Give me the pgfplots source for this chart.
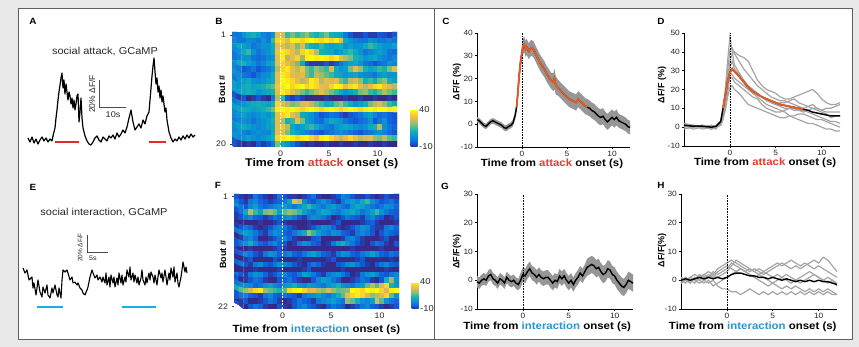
\documentclass[border=0pt]{standalone}
\usepackage{fontspec}
\setmainfont{Liberation Sans}[FakeStretch=1.1]
\newfontfamily\rotfont{Liberation Sans}
\usepackage{pgfplots}
\pgfplotsset{compat=1.18}
\usepackage{pgfplotstable}

\definecolor{bggray}{RGB}{232,232,232}
\definecolor{framegray}{RGB}{95,95,95}
\definecolor{attackred}{RGB}{232,60,55}
\definecolor{interblue}{RGB}{40,150,210}
\definecolor{lineorange}{RGB}{232,92,36}
\definecolor{bandgray}{RGB}{150,150,150}
\definecolor{tracegray}{RGB}{165,165,165}
\definecolor{barblue}{RGB}{30,170,230}
\definecolor{barred}{RGB}{232,40,40}
\definecolor{txt}{RGB}{40,40,40}

\newcommand\ftk{\fontsize{7.6}{9}\selectfont}
\newcommand\fxl{\fontsize{10.4}{12}\selectfont\bfseries}
\newcommand\fxlb{\fontsize{11.2}{13}\selectfont\bfseries}
\newcommand\fyl{\rotfont\fontsize{9}{10}\selectfont\bfseries}
\newcommand\flet{\fontsize{9}{10}\selectfont\bfseries}
\newcommand\fttl{\fontsize{10}{12}\selectfont}
\newcommand\fhm{\fontsize{8}{9}\selectfont}
\newcommand\fcb{\fontsize{8.5}{9}\selectfont}

\pgfplotsset{
  colormap={parula}{rgb255=(53,42,135) rgb255=(15,92,221) rgb255=(18,125,216) rgb255=(7,156,207) rgb255=(21,177,180) rgb255=(89,189,140) rgb255=(165,190,107) rgb255=(225,185,82) rgb255=(252,206,46) rgb255=(249,251,14)},
  /pgf/number format/assume math mode=true,
  enlargelimits=false,
  tr/.style={scale only axis, axis x line=bottom, axis y line=left,
    axis line style={black, line width=0.7pt},
    x axis line style={-}, y axis line style={-},
    every outer x axis line/.append style={-}, every outer y axis line/.append style={-},
    tick style={black, line width=0.6pt}, tick align=outside, major tick length=2.5pt,
    xmin=-5, xmax=12, xtick={0,5,10}, xticklabels={0,5,10},
    xticklabel pos=left, yticklabel pos=left,
    xticklabel style={font=\ftk, text=txt, anchor=north, inner sep=1.5pt},
    yticklabel style={font=\ftk, text=txt, anchor=east, inner sep=1.5pt},
    clip=false,
    every axis x label/.style={at={(axis description cs:0.5,0)}, anchor=center, font=\fxl},
    every axis y label/.style={at={(axis description cs:-0.13,0.5)}, rotate=90, anchor=center, font=\fyl}},
  hm/.style={scale only axis, width=165pt, height=115pt, xmin=-5, xmax=12,
    xtick={0,5,10}, axis line style={draw=none}, tickpos=left, tick align=outside,
    xtick style={draw=none}, ytick style={black!75, line width=0.5pt}, major tick length=2.5pt,
    tick label style={font=\fhm, text=txt}, xticklabel style={inner sep=1pt},
    colormap name=parula, point meta min=-10, point meta max=40,
    every axis x label/.style={at={(axis description cs:0.5,0)}, anchor=center, font=\fxl},
    every axis y label/.style={at={(axis description cs:-0.06,0.5)}, rotate=90, anchor=center, font=\fyl},
    colorbar},
}

% Panel C: mean trace
\pgfplotstableread{
t m
-5 2
-4.75 1.5
-4.5 0.5
-4.25 -0.5
-4 -1
-3.75 0
-3.5 1
-3.25 1.5
-3 1
-2.75 0.5
-2.5 0
-2.25 -0.5
-2 -1.5
-1.75 -1.8
-1.5 -1
-1.25 -0.5
-1 0.5
-0.9 2
-0.75 4
-0.6 7.5
-0.5 12
-0.4 17
-0.3 22
-0.2 26
-0.1 29
0 31
0.1 34
0.25 35
0.4 33
0.5 34
0.75 32
1 33.5
1.25 33
1.5 31
1.75 29
2 27
2.25 25.5
2.5 24
2.75 22
3 20.5
3.25 19
3.5 18.5
3.6 20
3.75 17
4 16
4.25 15
4.5 14
4.75 13
5 12
5.25 11
5.5 10.5
5.75 10
6 9.5
6.25 11
6.5 10
6.75 9
7 8
7.25 7.5
7.5 7
7.75 6
8 5.5
8.25 4.5
8.5 3.5
8.75 3
9 3.5
9.25 2
9.5 1
9.75 2
10 3
10.25 2
10.5 3
10.75 1.5
11 1
11.25 0.5
11.5 0
11.75 -1
12 -1.5
}\Ctab

% Panel C: SEM band outline (upper edge forward, lower edge back)
\pgfplotstableread{
t y
-5 3.2
-4.75 2.7
-4.5 1.7
-4.25 0.7
-4 0.2
-3.75 1.2
-3.5 2.2
-3.25 2.7
-3 2.2
-2.75 1.7
-2.5 1.2
-2.25 0.7
-2 -0.2
-1.75 -0.5
-1.5 0.3
-1.25 0.8
-1 2
-0.9 3.5
-0.75 6
-0.6 9.5
-0.5 14.5
-0.4 19.5
-0.3 25
-0.2 29
-0.1 32
0 34.5
0.1 37.5
0.25 38.5
0.4 36.5
0.5 37.5
0.75 35.5
1 37
1.25 36.5
1.5 34.5
1.75 32.5
2 30.5
2.25 29
2.5 27.5
2.75 25.5
3 24
3.25 22.5
3.5 22.5
3.6 24.5
3.75 21
4 19.5
4.25 18.5
4.5 17.5
4.75 16.5
5 15.5
5.25 14.5
5.5 14
5.75 13.5
6 13
6.25 14.5
6.5 13.5
6.75 12.5
7 11.5
7.25 11
7.5 10.5
7.75 9.5
8 9
8.25 8
8.5 7
8.75 6.5
9 7
9.25 5.5
9.5 4.5
9.75 5.5
10 6.5
10.25 5.5
10.5 6.5
10.75 4.5
11 4
11.25 3.5
11.5 3
11.75 2
12 1.5
12 -4.5
11.75 -4
11.5 -3
11.25 -2.5
11 -2
10.75 -1.5
10.5 -0.5
10.25 -1.5
10 -0.5
9.75 -1.5
9.5 -2.5
9.25 -1.5
9 0
8.75 -0.5
8.5 0
8.25 1
8 2
7.75 2.5
7.5 3.5
7.25 4
7 4.5
6.75 5.5
6.5 6.5
6.25 7.5
6 6
5.75 6.5
5.5 7
5.25 7.5
5 8.5
4.75 9.5
4.5 10.5
4.25 11.5
4 12.5
3.75 13
3.6 15.5
3.5 14.5
3.25 15.5
3 17
2.75 18.5
2.5 20.5
2.25 22
2 23.5
1.75 25.5
1.5 27.5
1.25 29.5
1 30
0.75 28.5
0.5 30.5
0.4 29.5
0.25 31.5
0.1 30.5
0 27.5
-0.1 26
-0.2 23
-0.3 19
-0.4 14.5
-0.5 9.5
-0.6 5.5
-0.75 2
-0.9 0.5
-1 -1
-1.25 -1.8
-1.5 -2.3
-1.75 -3.1
-2 -2.8
-2.25 -1.7
-2.5 -1.2
-2.75 -0.7
-3 -0.2
-3.25 0.3
-3.5 -0.2
-3.75 -1.2
-4 -2.2
-4.25 -1.7
-4.5 -0.7
-4.75 0.3
-5 0.8
}\Cband

% Panel G: mean trace
\pgfplotstableread{
t m
-5 -0.5
-4.75 -1
-4.5 0
-4.25 0.5
-4 0
-3.75 1.5
-3.5 2
-3.25 0.5
-3 0
-2.75 -1
-2.5 0.5
-2.25 0
-2 -1
-1.75 1
-1.5 0
-1.25 -0.5
-1 0
-0.75 -1
-0.5 -1.5
-0.25 0
0 2
0.25 1.5
0.5 3
0.75 4
1 2.5
1.25 2
1.5 1
1.75 2
2 1
2.25 0.5
2.5 1
2.75 1
3 0
3.25 -1
3.5 0
3.75 -0.5
4 1.5
4.25 0.5
4.5 1.5
4.75 0
5 -1
5.25 0
5.5 -1.5
5.75 0
6 1
6.25 2.5
6.5 1.5
6.75 3
7 4.5
7.25 5
7.5 5.5
7.75 5
8 4
8.25 4.5
8.5 3
8.75 2
9 2.5
9.25 4
9.5 3.5
9.75 2
10 1.5
10.25 0
10.5 -1
10.75 -2
11 -2.5
11.25 -1.5
11.5 0
11.75 -0.5
12 -1
}\Gtab

% Panel G: SEM band outline
\pgfplotstableread{
t y
-5 1.5
-4.75 1
-4.5 2
-4.25 2.5
-4 2
-3.75 3.5
-3.5 4
-3.25 2.5
-3 2
-2.75 1
-2.5 2.5
-2.25 2
-2 1
-1.75 3
-1.5 2
-1.25 1.5
-1 2
-0.75 1
-0.5 0.5
-0.25 2.5
0 4.5
0.25 4
0.5 5.5
0.75 6.5
1 5
1.25 4.5
1.5 3.5
1.75 4.5
2 3.5
2.25 3
2.5 3.5
2.75 3.5
3 2.5
3.25 1.5
3.5 2.5
3.75 2
4 4
4.25 3
4.5 4
4.75 2.5
5 1.5
5.25 2.5
5.5 1
5.75 2.5
6 3.5
6.25 5
6.5 4
6.75 5.5
7 7.5
7.25 8
7.5 8.5
7.75 8
8 7
8.25 7.5
8.5 6
8.75 5
9 5.5
9.25 7
9.5 6.5
9.75 5
10 4.5
10.25 3
10.5 2
10.75 1
11 0.5
11.25 1.5
11.5 3
11.75 2.5
12 2
12 -4
11.75 -3.5
11.5 -3
11.25 -4.5
11 -5.5
10.75 -5
10.5 -4
10.25 -3
10 -1.5
9.75 -1
9.5 0.5
9.25 1
9 -0.5
8.75 -1
8.5 0
8.25 1.5
8 1
7.75 2
7.5 2.5
7.25 2
7 1.5
6.75 0.5
6.5 -1
6.25 0
6 -1.5
5.75 -2.5
5.5 -4
5.25 -2.5
5 -3.5
4.75 -2.5
4.5 -1
4.25 -2
4 -1
3.75 -3
3.5 -2.5
3.25 -3.5
3 -2.5
2.75 -1.5
2.5 -1.5
2.25 -2
2 -1.5
1.75 -0.5
1.5 -1.5
1.25 -0.5
1 0
0.75 1.5
0.5 0.5
0.25 -1
0 -0.5
-0.25 -2.5
-0.5 -3.5
-0.75 -3
-1 -2
-1.25 -2.5
-1.5 -2
-1.75 -1
-2 -3
-2.25 -2
-2.5 -1.5
-2.75 -3
-3 -2
-3.25 -1.5
-3.5 0
-3.75 -0.5
-4 -2
-4.25 -1.5
-4.5 -2
-4.75 -3
-5 -2.5
}\Gband

% Panel D: mean and individual animals
\pgfplotstableread{
t m a b c d e f g
-5 1 1 0 2 -1 1 0 2
-4 0.5 0 1 1 0 -1 1 0
-3 0.5 1 -1 0 1 0 0 1
-2 0 -1 0 1 -1 1 -1 0
-1.5 0.5 0 1 0 0 0 1 -1
-1 3 2 3 1 2 1 2 3
-0.75 10 8 7 5 6 4 5 9
-0.5 17 20 15 12 13 10 9 18
-0.25 24 35 26 22 22 18 16 30
0 29 48 35 32 29 27 21 41
0.25 31 40 39 35 28 26 22 42
0.5 29.5 33 40 31 26 24 20 39
1 27 29 38 28 24 22 18 35
1.5 24 25 37 24 22 20 15 31
2 21 22 35 21 20 18 12 28
2.5 19 20 30 19 18 16 11 25
3 17.5 18 25 17 16 15 10 22
3.5 16 16 22 16 14 12 9 20
4 15 14 20 15 12 10 8 18
4.5 14 13 19 13 11 9 7 16
5 13 12 18 12 10 8 6 15
5.5 12 11 16 13 9 8 5 14
6 11.5 10 15 13 8 9 5 14
6.5 11 10 15 14 6 10 6 13
7 10.5 9 16 15 5 10 6 12
7.5 10 9 17 13 4 9 7 11
8 9.5 9 18 12 3 8 7 10
8.5 9 8 19 11 2 9 6 11
9 8 7 20 10 2 10 5 12
9.5 7.5 6 18 10 1 9 4 10
10 7 5 15 9 0 8 4 9
10.5 6.5 4 13 8 -1 7 3 10
11 6 3 12 8 -1 5 2 10
11.5 6 3 12 8 -2 6 1 11
12 6 2 13 8 -2 6 0 12
}\Dtab

% Panel H: mean and individual animals
\pgfplotstableread{
t m a b c d e f
-5 0 1 -1 0 1 -1 0
-4.5 0.5 0 1 -1 0 0 1
-4 0 1 0 1 -1 1 -1
-3.5 0.5 2 -1 0 1 0 1
-3 1 1 1 2 0 -1 0
-2.5 0.5 2 0 1 2 0 -1
-2 1 3 1 2 1 -1 0
-1.5 0.5 2 2 1 3 0 -2
-1 1 4 1 3 2 -2 -1
-0.5 0.5 5 2 4 3 -3 0
0 1 6 3 5 4 -3 1
0.5 2 7 5 4 6 -4 2
1 2.5 6 7 3 5 -4 3
1.5 2.5 5 6 4 4 -5 4
2 2 4 5 3 3 -4 3
2.5 1.5 3 4 4 2 -3 2
3 1.5 4 3 3 1 -4 1
3.5 1 3 2 4 0 -5 2
4 1 2 3 3 -1 -4 1
4.5 0.5 3 4 2 -2 -5 0
5 1 4 5 1 -1 -4 -1
5.5 0.5 5 6 2 -2 -5 0
6 0 6 5 1 -3 -4 1
6.5 0.5 5 6 0 -2 -5 2
7 0 4 7 -1 -3 -4 1
7.5 -0.5 5 6 0 -2 -5 0
8 0 4 5 1 -3 -4 -1
8.5 -0.5 5 6 2 -4 -5 0
9 0 6 5 3 -3 -4 1
9.5 -0.5 7 4 2 -4 -5 2
10 0 6 5 1 -3 -4 1
10.5 -0.5 8 4 0 -4 -5 0
11 -0.5 7 3 1 -3 -4 -1
11.5 -1 5 2 0 -4 -5 0
12 -1.5 3 1 -1 -5 -5 -2
}\Htab

\begin{document}
\begin{tikzpicture}[x=1pt,y=1pt]
\useasboundingbox (0,0) rectangle (859,347);
\fill[bggray] (0,0) rectangle (859,347);
\fill[white] (18,8) rectangle (852,339);
\draw[framegray, line width=0.8pt] (18,8) rectangle (852,339);
\draw[framegray, line width=0.8pt] (434,8) -- (434,339);

% ---------- A ----------
\begin{axis}[at={(28pt,193.5pt)}, anchor=south west, scale only axis, width=167pt, height=108pt,
  xmin=0, xmax=61.85, ymin=-10, ymax=70, hide axis, clip=false]
\addplot[black, line width=1.2pt, line join=round] table[row sep=\\] {x y\\
0 1.5\\ 0.74 -1.5\\ 1.48 2.2\\ 2.22 -2.2\\ 2.96 0.7\\ 3.70 -3.0\\ 4.44 0\\ 5.19 2.2\\ 5.93 -0.7\\ 6.67 1.5\\
7.41 -1.5\\ 8.15 0.7\\ 8.89 -0.7\\ 9.26 3.0\\ 10.0 8.9\\ 10.37 16.3\\ 10.74 22.2\\ 11.11 29.6\\ 11.48 35.6\\ 11.85 40.7\\
12.22 45.9\\ 12.59 49.6\\ 12.96 38.5\\ 13.33 44.4\\ 13.70 34.1\\ 14.07 41.5\\ 14.44 35.6\\ 14.81 29.6\\ 15.19 35.6\\ 15.56 32.6\\
15.93 26.7\\ 16.30 31.1\\ 16.67 23.7\\ 17.04 29.6\\ 17.41 22.2\\ 17.78 26.7\\ 18.15 32.6\\ 18.52 34.1\\ 18.89 13.3\\ 19.26 20.7\\
19.63 31.1\\ 20.0 16.3\\ 20.37 8.9\\ 21.11 3.0\\ 21.85 -0.7\\ 22.59 -3.0\\ 23.33 -3.7\\ 24.07 -1.5\\ 24.81 1.5\\ 25.56 3.0\\
26.30 0\\ 27.04 -1.5\\ 27.78 2.2\\ 28.52 0.7\\ 29.26 -0.7\\ 30.0 3.0\\ 30.74 1.5\\ 31.48 3.7\\ 32.22 0.7\\ 32.96 5.2\\
33.70 2.2\\ 34.44 4.4\\ 35.19 7.4\\ 35.93 5.2\\ 36.67 9.6\\ 37.41 16.3\\ 38.15 22.2\\ 38.89 13.3\\ 39.63 7.4\\ 40.37 9.6\\
41.11 11.9\\ 41.85 8.9\\ 42.59 14.8\\ 43.33 11.9\\ 44.07 17.8\\ 44.81 20.7\\ 45.19 29.6\\ 45.56 38.5\\ 45.93 47.4\\ 46.30 54.8\\
46.67 60.7\\ 47.04 50.4\\ 47.41 41.5\\ 47.78 45.9\\ 48.15 35.6\\ 48.52 40.0\\ 48.89 31.1\\ 49.26 37.0\\ 49.63 28.1\\ 50.0 32.6\\
50.37 26.7\\ 50.74 20.7\\ 51.11 23.7\\ 51.48 14.8\\ 51.85 10.4\\ 52.22 5.9\\ 52.96 1.5\\ 53.70 -1.5\\ 54.44 0.7\\ 55.19 -0.7\\
55.93 2.2\\ 56.67 0\\ 57.41 3.0\\ 58.15 0.7\\ 58.89 3.7\\ 59.63 1.5\\ 60.37 4.4\\ 61.11 2.2\\ 61.85 3.7\\
};
\addplot[barred, line width=2pt] coordinates {(10,-1.5) (18.9,-1.5)};
\addplot[barred, line width=2pt] coordinates {(44.8,-1.5) (51.1,-1.5)};
\addplot[black!70, line width=1pt] coordinates {(26.3,44.4) (26.3,24.4) (36.3,24.4)};
\node[rotate=90, font=\rotfont\fontsize{8.5}{9}\selectfont, text=txt] at (axis cs:23.7,34) {20\% ΔF/F};
\node[font=\fontsize{8.3}{9}\selectfont, text=txt] at (axis cs:31.5,18.5) {10s};
\end{axis}

% ---------- E ----------
\begin{axis}[at={(23pt,33pt)}, anchor=south west, scale only axis, width=164pt, height=85pt,
  xmin=0, xmax=39.05, ymin=-40, ymax=60, hide axis, clip=false]
\addplot[black, line width=1.1pt, line join=round] table[row sep=\\] {x y\\
0 14.1\\ 0.48 8.2\\ 0.95 11.8\\ 1.43 0\\ 2.14 3.5\\ 2.38 -9.4\\ 2.62 -3.5\\ 3.10 -17.6\\ 3.33 -9.4\\ 3.57 0\\
4.05 -14.1\\ 4.52 -20\\ 4.76 -8.2\\ 5.24 -15.3\\ 5.71 -5.9\\ 5.95 -17.6\\ 6.43 -21.2\\ 6.90 -9.4\\ 7.14 -15.3\\ 7.62 -5.9\\
8.10 -17.6\\ 8.33 -20\\ 8.57 -9.4\\ 9.05 -21.2\\ 9.29 0\\ 9.52 11.8\\ 10.0 9.4\\ 10.48 11.8\\ 10.71 8.2\\ 11.19 0\\
11.67 3.5\\ 11.90 -3.5\\ 12.38 -2.4\\ 12.86 -5.9\\ 13.10 -3.5\\ 13.57 -9.4\\ 14.05 -11.8\\ 14.29 -15.3\\ 14.76 -17.6\\ 15.24 -11.8\\
15.48 -8.2\\ 15.95 3.5\\ 16.43 11.8\\ 16.67 8.2\\ 17.14 2.4\\ 17.62 5.9\\ 17.86 0\\ 18.33 3.5\\ 18.81 -2.4\\ 19.05 3.5\\
19.52 -3.5\\ 19.76 8.2\\ 20.0 -5.9\\ 20.48 3.5\\ 20.71 -8.2\\ 20.95 5.9\\ 21.43 -3.5\\ 21.67 3.5\\ 21.90 -8.2\\ 22.38 2.4\\
22.62 -5.9\\ 22.86 8.2\\ 23.33 -3.5\\ 23.57 5.9\\ 23.81 -5.9\\ 24.29 3.5\\ 24.52 -2.4\\ 24.76 11.8\\ 25.24 3.5\\ 25.48 15.3\\
25.71 0\\ 26.19 8.2\\ 26.43 -2.4\\ 26.67 5.9\\ 27.14 -3.5\\ 27.38 3.5\\ 27.62 -5.9\\ 28.10 2.4\\ 28.33 11.8\\ 28.57 0\\
29.05 -5.9\\ 29.29 3.5\\ 29.52 -3.5\\ 30.0 8.2\\ 30.24 0\\ 30.48 9.4\\ 30.95 3.5\\ 31.19 -3.5\\ 31.43 5.9\\ 31.90 -5.9\\
32.14 3.5\\ 32.38 11.8\\ 32.86 2.4\\ 33.10 8.2\\ 33.33 -2.4\\ 33.81 11.8\\ 34.05 3.5\\ 34.29 -5.9\\ 34.76 8.2\\ 35.0 0\\
35.24 14.1\\ 35.71 3.5\\ 35.95 15.3\\ 36.19 -2.4\\ 36.67 8.2\\ 36.90 -3.5\\ 37.14 -8.2\\ 37.62 3.5\\ 37.86 11.8\\ 38.10 21.2\\
38.57 9.4\\ 38.81 15.3\\ 39.05 8.2\\
};
\addplot[barblue, line width=2pt] coordinates {(3.33,-31.8) (9.52,-31.8)};
\addplot[barblue, line width=2pt] coordinates {(23.57,-31.8) (31.67,-31.8)};
\addplot[black!70, line width=1pt] coordinates {(15.24,52.9) (15.24,32.9) (20.24,32.9)};
\node[rotate=90, font=\rotfont\fontsize{6.5}{7}\selectfont, text=txt] at (axis cs:13.57,38.2) {20\% ΔF/F};
\node[font=\fontsize{6.5}{7}\selectfont, text=txt] at (axis cs:16.67,25.9) {5s};
\end{axis}

% ---------- B heatmap ----------
\begin{axis}[hm, at={(232pt,200pt)}, anchor=south west, ymin=0.5, ymax=20.5, ytick={1,20}, yticklabels={20,1},
  xlabel={Time from \textcolor{attackred}{attack} onset (s)},
  xlabel style={font=\fxlb, at={(axis description cs:0.544,0)}, yshift=-16.5pt},
  ylabel={Bout \#}, ylabel style={at={(axis description cs:-0.06,0.5)}},
  colorbar style={at={(parent axis.south east)}, anchor=south west, xshift=5pt, scale only axis,
    width=7pt, height=37pt, ytick={-10,40}, axis line style={draw=none}, major tick length=0pt,
    yticklabel style={font=\fcb, text=txt, inner sep=1.5pt}}]
\addplot[matrix plot*, mesh/cols=34, point meta=explicit] table[header=false, row sep=\\,
  x expr={mod(\coordindex,34)*0.5-4.75}, y expr={20-floor(\coordindex/34)}, meta index=0] {
0\\ 0\\ 5\\ 10\\ 12\\ 8\\ 2\\ 0\\ 5\\ 30\\ 28\\ 15\\ 20\\ 15\\ 18\\ 22\\ 15\\ 12\\ 15\\ 20\\ 12\\ 10\\ 8\\ 0\\ -5\\ -8\\ -8\\ -5\\ -8\\ -8\\ -5\\ -6\\ -8\\ -5\\
2\\ 0\\ 0\\ 3\\ 2\\ 0\\ 5\\ 0\\ 15\\ 35\\ 35\\ 30\\ 38\\ 38\\ 35\\ 38\\ 40\\ 38\\ 35\\ 38\\ 35\\ 38\\ 30\\ 10\\ 5\\ 2\\ 0\\ 0\\ 5\\ 3\\ 0\\ 0\\ 2\\ 0\\
5\\ 10\\ 8\\ 5\\ 0\\ 2\\ 5\\ 5\\ 10\\ 30\\ 30\\ 25\\ 30\\ 20\\ 28\\ 15\\ 12\\ 10\\ 15\\ 10\\ 8\\ 10\\ 12\\ 5\\ 8\\ 5\\ 5\\ 10\\ 15\\ 12\\ 8\\ 5\\ 5\\ 8\\
3\\ 5\\ 10\\ 15\\ 5\\ 0\\ 3\\ 5\\ 10\\ 32\\ 38\\ 35\\ 30\\ 25\\ 35\\ 38\\ 35\\ 25\\ 12\\ 10\\ 10\\ 5\\ 8\\ 12\\ 15\\ 10\\ 5\\ 0\\ 2\\ 5\\ 8\\ 5\\ 0\\ -2\\
0\\ 2\\ 5\\ 5\\ 0\\ -2\\ 0\\ 3\\ 5\\ 30\\ 38\\ 25\\ 30\\ 35\\ 22\\ 38\\ 40\\ 38\\ 40\\ 38\\ 35\\ 38\\ 30\\ 25\\ 20\\ 12\\ 10\\ 5\\ 8\\ 10\\ 5\\ 2\\ 0\\ 3\\
5\\ 10\\ 12\\ 8\\ 5\\ 0\\ 3\\ 8\\ 10\\ 30\\ 35\\ 30\\ 25\\ 20\\ 10\\ -5\\ -8\\ -8\\ -8\\ -5\\ -8\\ -5\\ 0\\ 5\\ 8\\ 10\\ 5\\ 0\\ -2\\ -5\\ -2\\ 0\\ 5\\ 3\\
2\\ 0\\ -5\\ -3\\ 0\\ -5\\ -2\\ 0\\ 5\\ 25\\ 35\\ 38\\ 30\\ 25\\ 32\\ 20\\ 15\\ 22\\ 18\\ 15\\ 28\\ 10\\ 5\\ 8\\ 20\\ 30\\ 22\\ 12\\ 8\\ 10\\ 15\\ 12\\ 20\\ 30\\
5\\ 3\\ 0\\ -2\\ -5\\ 0\\ 3\\ 5\\ 10\\ 30\\ 38\\ 35\\ 30\\ 28\\ 30\\ 20\\ 15\\ 25\\ 22\\ 18\\ 15\\ 10\\ 8\\ 5\\ 8\\ 10\\ 5\\ 3\\ 2\\ 0\\ 5\\ 8\\ 5\\ 5\\
0\\ 5\\ 8\\ 10\\ 5\\ 3\\ 5\\ 8\\ 10\\ 30\\ 40\\ 38\\ 35\\ 30\\ 25\\ 28\\ 38\\ 35\\ 25\\ 30\\ 28\\ 30\\ 20\\ 15\\ 25\\ 28\\ 22\\ 12\\ 15\\ 10\\ 18\\ 22\\ 12\\ 8\\
8\\ 5\\ 10\\ 12\\ 8\\ 10\\ 12\\ 15\\ 18\\ 32\\ 38\\ 40\\ 35\\ 38\\ 40\\ 35\\ 38\\ 35\\ 30\\ 28\\ 35\\ 40\\ 38\\ 30\\ 35\\ 38\\ 30\\ 25\\ 30\\ 35\\ 38\\ 32\\ 28\\ 25\\
5\\ 8\\ 10\\ 12\\ 10\\ 5\\ 8\\ 10\\ 12\\ 30\\ 38\\ 35\\ 30\\ 25\\ 20\\ 15\\ 20\\ 25\\ 30\\ 25\\ 20\\ 15\\ 10\\ 5\\ 8\\ 12\\ 20\\ 22\\ 15\\ 12\\ 18\\ 25\\ 20\\ 15\\
-5\\ -8\\ -5\\ -10\\ -8\\ -5\\ -8\\ -10\\ 0\\ 25\\ 15\\ -5\\ -8\\ -5\\ -8\\ -10\\ -10\\ -10\\ -10\\ -8\\ -10\\ -10\\ -10\\ -8\\ -10\\ -10\\ -8\\ -10\\ -10\\ -8\\ -10\\ -10\\ -8\\ -10\\
0\\ 3\\ 5\\ 8\\ 10\\ 12\\ 10\\ 8\\ 12\\ 35\\ 30\\ 25\\ 20\\ 22\\ 28\\ 30\\ 25\\ 20\\ 15\\ 10\\ 12\\ 18\\ 22\\ 15\\ 10\\ 5\\ 8\\ 12\\ 20\\ 25\\ 28\\ 22\\ 15\\ 10\\
8\\ 10\\ 12\\ 10\\ 8\\ 10\\ 12\\ 15\\ 20\\ 38\\ 40\\ 38\\ 40\\ 38\\ 35\\ 38\\ 40\\ 38\\ 35\\ 38\\ 40\\ 38\\ 35\\ 38\\ 40\\ 38\\ 35\\ 38\\ 40\\ 38\\ 40\\ 40\\ 38\\ 40\\
3\\ 5\\ 8\\ 5\\ 3\\ 5\\ 8\\ 5\\ 10\\ 30\\ 35\\ 38\\ 30\\ 25\\ 10\\ 8\\ 5\\ 0\\ -5\\ -3\\ 0\\ -2\\ -5\\ -8\\ -5\\ -3\\ 0\\ 5\\ 8\\ 2\\ -2\\ 0\\ -3\\ -5\\
0\\ 2\\ 5\\ 3\\ 0\\ 3\\ 5\\ 8\\ 12\\ 30\\ 25\\ 12\\ 15\\ 30\\ 20\\ 8\\ 5\\ 0\\ -2\\ 5\\ 10\\ 8\\ 5\\ 0\\ -3\\ -5\\ -2\\ 0\\ 5\\ -5\\ 0\\ 5\\ -3\\ -5\\
5\\ 8\\ 10\\ 8\\ 5\\ 3\\ 5\\ 8\\ 10\\ 30\\ 32\\ 25\\ 10\\ 5\\ 8\\ 12\\ 15\\ 10\\ 5\\ 2\\ 0\\ 5\\ 8\\ 10\\ 8\\ 5\\ 3\\ 5\\ 10\\ 12\\ 25\\ 5\\ 0\\ -3\\
3\\ 5\\ 2\\ 0\\ 3\\ 5\\ 3\\ 2\\ 10\\ 30\\ 30\\ 20\\ 12\\ 8\\ 5\\ 2\\ 0\\ -3\\ -5\\ -2\\ 0\\ 3\\ 5\\ 2\\ 0\\ -3\\ -5\\ -2\\ 0\\ 3\\ 5\\ 2\\ -2\\ -5\\
5\\ 3\\ 5\\ 8\\ 5\\ 3\\ 5\\ 8\\ 12\\ 35\\ 38\\ 40\\ 38\\ 35\\ 38\\ 40\\ 35\\ 30\\ 38\\ 40\\ 35\\ 30\\ 25\\ 30\\ 35\\ 30\\ 25\\ 28\\ 30\\ 22\\ 20\\ 25\\ 18\\ 15\\
-5\\ -8\\ -10\\ -8\\ -10\\ -5\\ -8\\ -5\\ 0\\ 20\\ 10\\ 5\\ 0\\ -5\\ -8\\ -10\\ -8\\ -10\\ -10\\ -8\\ -10\\ -10\\ -8\\ -10\\ -10\\ -8\\ -10\\ -10\\ -8\\ -10\\ -10\\ -8\\ -10\\ -10\\
};
\addplot[white, line width=0.8pt, dash pattern=on 2pt off 1.5pt] coordinates {(0,0.5) (0,20.5)};
\end{axis}

% ---------- F heatmap ----------
\begin{axis}[hm, at={(234pt,38pt)}, anchor=south west, ymin=0.5, ymax=22.5, ytick={1,22}, yticklabels={22,1},
  xlabel={Time from \textcolor{interblue}{interaction} onset (s)},
  xlabel style={at={(axis description cs:0.5,0)}, yshift=-21pt},
  ylabel={Bout \#}, ylabel style={at={(axis description cs:-0.067,0.47)}},
  colorbar style={at={(parent axis.south east)}, anchor=south west, xshift=4pt, scale only axis,
    width=7pt, height=27pt, ytick={-10,40}, axis line style={draw=none}, major tick length=0pt,
    yticklabel style={font=\fcb, text=txt, inner sep=1.5pt}}]
\addplot[matrix plot*, mesh/cols=34, point meta=explicit] table[header=false, row sep=\\,
  x expr={mod(\coordindex,34)*0.5-4.75}, y expr={22-floor(\coordindex/34)}, meta index=0] {
-5\\ -8\\ -10\\ -8\\ 0\\ -5\\ -8\\ -10\\ -8\\ 0\\ -5\\ -8\\ -8\\ -10\\ -8\\ -5\\ 0\\ -8\\ -10\\ -10\\ -8\\ -5\\ 3\\ 0\\ -5\\ -8\\ -8\\ -5\\ -8\\ -10\\ -8\\ -5\\ -8\\ -8\\
0\\ -5\\ -8\\ 0\\ 3\\ -3\\ -5\\ -8\\ -5\\ -3\\ 0\\ 8\\ 30\\ 25\\ 3\\ -3\\ -5\\ 0\\ 5\\ 0\\ -5\\ -8\\ 0\\ 5\\ 8\\ 3\\ 10\\ 15\\ 5\\ 0\\ -5\\ -3\\ 0\\ -5\\
5\\ 0\\ -5\\ 3\\ 8\\ 0\\ -3\\ 0\\ 3\\ 5\\ 8\\ 3\\ 0\\ 5\\ 10\\ 15\\ 8\\ 3\\ 0\\ 5\\ 8\\ 3\\ 0\\ -3\\ 5\\ 10\\ 8\\ 3\\ 0\\ -3\\ 0\\ 5\\ 3\\ -3\\
-5\\ 0\\ 10\\ 25\\ 15\\ 8\\ 20\\ 22\\ 18\\ 8\\ 18\\ 22\\ 20\\ 15\\ 8\\ 3\\ 0\\ 5\\ 10\\ 8\\ 3\\ 0\\ 5\\ 8\\ 10\\ 5\\ 0\\ 3\\ 8\\ 15\\ 5\\ 0\\ -3\\ -5\\
-8\\ -5\\ 0\\ 3\\ -3\\ -5\\ -8\\ -5\\ 0\\ -3\\ 3\\ 5\\ 0\\ -5\\ -8\\ 0\\ 5\\ 3\\ 0\\ -5\\ -10\\ -8\\ -5\\ 0\\ -3\\ -5\\ -8\\ 0\\ 3\\ -3\\ -5\\ -10\\ -8\\ -5\\
-10\\ -10\\ -10\\ -10\\ -10\\ -8\\ -10\\ -10\\ -8\\ -5\\ -8\\ -10\\ -10\\ -10\\ -10\\ -8\\ -10\\ -10\\ -10\\ -10\\ -8\\ -5\\ -10\\ -10\\ -10\\ -10\\ -8\\ -5\\ -3\\ -8\\ -10\\ -10\\ -10\\ -8\\
-8\\ -5\\ 0\\ -3\\ -8\\ -10\\ -8\\ -5\\ 0\\ 3\\ 0\\ -5\\ -8\\ -10\\ -10\\ -8\\ -5\\ 0\\ 5\\ 3\\ -3\\ -8\\ -10\\ -8\\ -5\\ 0\\ 5\\ 3\\ -5\\ -8\\ -8\\ 0\\ 3\\ -3\\
0\\ 3\\ 8\\ 5\\ 0\\ -5\\ -8\\ 0\\ 5\\ 3\\ -3\\ -5\\ 0\\ 5\\ 10\\ 22\\ 15\\ 8\\ 3\\ 0\\ 5\\ 3\\ -3\\ -5\\ -8\\ 0\\ 3\\ 0\\ -5\\ -10\\ -5\\ 0\\ -3\\ -5\\
-10\\ -8\\ 0\\ 3\\ -3\\ -10\\ -10\\ -8\\ -5\\ 0\\ 3\\ -3\\ -8\\ -10\\ -10\\ -10\\ -5\\ -3\\ -10\\ -10\\ -10\\ -10\\ -8\\ 0\\ 3\\ -3\\ -8\\ -10\\ -10\\ -10\\ -8\\ -5\\ -10\\ -10\\
-5\\ 0\\ 5\\ 12\\ 3\\ -3\\ -5\\ 0\\ 3\\ -3\\ -5\\ -10\\ -8\\ 0\\ 5\\ 3\\ -3\\ -5\\ -10\\ -8\\ 0\\ 8\\ 12\\ 5\\ 0\\ -5\\ -8\\ -10\\ -5\\ 0\\ -3\\ -8\\ -10\\ -5\\
-10\\ -10\\ -10\\ -8\\ -10\\ -10\\ -10\\ -10\\ -8\\ -5\\ -8\\ -10\\ -10\\ -10\\ -10\\ -10\\ -10\\ -10\\ -10\\ -10\\ -10\\ -10\\ -10\\ -10\\ -8\\ -10\\ -10\\ -10\\ -10\\ -10\\ -8\\ -10\\ -10\\ -10\\
-5\\ -3\\ 3\\ 0\\ -5\\ -8\\ 0\\ 5\\ 3\\ -3\\ 0\\ 3\\ -3\\ -5\\ 0\\ 5\\ 8\\ 3\\ -3\\ -5\\ -8\\ 0\\ 5\\ 3\\ -3\\ -5\\ 0\\ 3\\ 8\\ 3\\ -3\\ -5\\ 0\\ -3\\
-10\\ -10\\ -8\\ -5\\ -10\\ -10\\ -10\\ -10\\ -5\\ -8\\ -10\\ -10\\ -10\\ -8\\ -10\\ -10\\ -10\\ -10\\ -10\\ -8\\ -5\\ -10\\ -10\\ -10\\ -10\\ -8\\ -5\\ -10\\ -10\\ -10\\ -10\\ -10\\ -8\\ -10\\
-3\\ 0\\ -5\\ -8\\ 0\\ 3\\ -3\\ -5\\ 0\\ 5\\ 3\\ 0\\ -5\\ -8\\ -10\\ -5\\ 0\\ -3\\ -8\\ -10\\ -10\\ -5\\ -3\\ 3\\ 5\\ 0\\ -5\\ -8\\ -10\\ -5\\ 0\\ 3\\ -3\\ -5\\
-10\\ -10\\ -10\\ -10\\ -8\\ -10\\ -10\\ -10\\ -10\\ -8\\ -10\\ -10\\ -10\\ -10\\ -8\\ -5\\ -10\\ -10\\ -10\\ -10\\ -10\\ -10\\ -8\\ -10\\ -10\\ -10\\ -10\\ -10\\ -10\\ -10\\ -10\\ -8\\ -10\\ -10\\
0\\ -5\\ -8\\ 0\\ 5\\ 3\\ -3\\ -8\\ -5\\ 0\\ 3\\ -3\\ -5\\ 0\\ 8\\ 5\\ 0\\ -5\\ -8\\ 0\\ 3\\ 5\\ 0\\ -5\\ -10\\ -8\\ 0\\ 5\\ 8\\ 3\\ -3\\ -5\\ 0\\ 3\\
-5\\ -10\\ -8\\ -5\\ 0\\ -3\\ -8\\ -10\\ -10\\ -5\\ -3\\ 0\\ -5\\ -8\\ -10\\ -10\\ -5\\ 3\\ 8\\ 5\\ 0\\ -5\\ -10\\ -10\\ -8\\ -5\\ 0\\ -3\\ -8\\ -10\\ -5\\ 12\\ 22\\ 5\\
0\\ 3\\ 5\\ 3\\ -3\\ 0\\ 5\\ 8\\ 3\\ 0\\ 5\\ 8\\ 12\\ 5\\ 3\\ 8\\ 5\\ 3\\ 0\\ 5\\ 8\\ 12\\ 5\\ 3\\ 0\\ 5\\ 8\\ 18\\ 25\\ 18\\ 28\\ 35\\ 12\\ 5\\
12\\ 18\\ 22\\ 28\\ 35\\ 38\\ 22\\ 18\\ 15\\ 12\\ 18\\ 35\\ 38\\ 40\\ 35\\ 28\\ 30\\ 25\\ 22\\ 28\\ 22\\ 18\\ 20\\ 22\\ 40\\ 38\\ 35\\ 40\\ 38\\ 40\\ 35\\ 28\\ 38\\ 40\\
-5\\ 0\\ 3\\ -3\\ -5\\ -8\\ 0\\ 3\\ -3\\ -5\\ 0\\ -3\\ -5\\ -8\\ 0\\ 3\\ 5\\ 8\\ 3\\ 0\\ 5\\ 12\\ 18\\ 30\\ 35\\ 38\\ 35\\ 28\\ 22\\ 25\\ 28\\ 35\\ 18\\ 5\\
-10\\ -8\\ -5\\ -10\\ -10\\ -8\\ -5\\ 0\\ -3\\ -8\\ -10\\ -8\\ -5\\ 0\\ -3\\ -5\\ -8\\ 0\\ 3\\ 5\\ 8\\ 3\\ 0\\ 22\\ 18\\ 12\\ 5\\ 3\\ 8\\ 28\\ 18\\ 5\\ 0\\ -3\\
-5\\ -8\\ -10\\ -5\\ 0\\ -3\\ -8\\ -10\\ -10\\ -5\\ -8\\ -10\\ -5\\ 0\\ 3\\ -3\\ -5\\ -8\\ -10\\ -5\\ 0\\ -3\\ -5\\ -10\\ -8\\ -5\\ 0\\ 3\\ -3\\ -5\\ -8\\ -10\\ -8\\ -5\\
};
\addplot[white, line width=0.8pt, dash pattern=on 2pt off 1.5pt] coordinates {(0,0.5) (0,22.5)};
\end{axis}

% ---------- C ----------
\begin{axis}[tr, at={(477pt,200pt)}, anchor=south west, width=153pt, height=114pt,
  ymin=-10, ymax=40, ytick={-10,0,...,40},
  xlabel={Time from \textcolor{attackred}{attack} onset (s)},
  xlabel style={at={(axis description cs:0.49,0)}, yshift=-17pt},
  ylabel={ΔF/F (\%)}, ylabel style={at={(axis description cs:-0.13,0.57)}}]
\addplot[fill=bandgray, draw=none] table[x=t, y=y] {\Cband};
\addplot[black, densely dotted, line width=0.6pt] coordinates {(0,-10) (0,40)};
\addplot[black, line width=1.4pt] table[x=t, y=m] {\Ctab};
\addplot[lineorange, line width=1.7pt, restrict x to domain=-0.6:7.25] table[x=t, y=m] {\Ctab};
\end{axis}

% ---------- D ----------
\begin{axis}[tr, at={(684pt,201pt)}, anchor=south west, width=156pt, height=113pt,
  ymin=-10, ymax=50, ytick={-10,0,...,50},
  xlabel={Time from \textcolor{attackred}{attack} onset (s)},
  xlabel style={at={(axis description cs:0.52,0)}, yshift=-17pt},
  ylabel={ΔF/F (\%)}, ylabel style={at={(axis description cs:-0.141,0.54)}}]
\addplot[tracegray, line width=1.2pt] table[x=t, y=a] {\Dtab};
\addplot[tracegray, line width=1.2pt] table[x=t, y=b] {\Dtab};
\addplot[tracegray, line width=1.2pt] table[x=t, y=c] {\Dtab};
\addplot[tracegray, line width=1.2pt] table[x=t, y=d] {\Dtab};
\addplot[tracegray, line width=1.2pt] table[x=t, y=e] {\Dtab};
\addplot[tracegray, line width=1.2pt] table[x=t, y=f] {\Dtab};
\addplot[tracegray, line width=1.2pt] table[x=t, y=g] {\Dtab};
\addplot[black, densely dotted, line width=0.6pt] coordinates {(0,-10) (0,50)};
\addplot[black, line width=1.5pt] table[x=t, y=m] {\Dtab};
\addplot[lineorange, line width=1.8pt, restrict x to domain=-0.75:8] table[x=t, y=m] {\Dtab};
\end{axis}

% ---------- G ----------
\begin{axis}[tr, at={(477pt,38pt)}, anchor=south west, width=156pt, height=115pt,
  ymin=-10, ymax=30, ytick={-10,0,...,30},
  xlabel={Time from \textcolor{interblue}{interaction} onset (s)},
  xlabel style={at={(axis description cs:0.45,0)}, yshift=-18pt},
  ylabel={ΔF/F(\%)}, ylabel style={at={(axis description cs:-0.128,0.5)}}]
\addplot[fill=bandgray, draw=none] table[x=t, y=y] {\Gband};
\addplot[black, densely dotted, line width=0.6pt] coordinates {(0,-10) (0,30)};
\addplot[black, line width=1.4pt] table[x=t, y=m] {\Gtab};
\end{axis}

% ---------- H ----------
\begin{axis}[tr, at={(681pt,38pt)}, anchor=south west, width=156pt, height=115pt,
  ymin=-10, ymax=30, ytick={-10,0,...,30},
  xlabel={Time from \textcolor{interblue}{interaction} onset (s)},
  xlabel style={at={(axis description cs:0.46,0)}, yshift=-18pt},
  ylabel={ΔF/F(\%)}, ylabel style={at={(axis description cs:-0.122,0.51)}}]
\addplot[tracegray, line width=1.2pt] table[x=t, y=a] {\Htab};
\addplot[tracegray, line width=1.2pt] table[x=t, y=b] {\Htab};
\addplot[tracegray, line width=1.2pt] table[x=t, y=c] {\Htab};
\addplot[tracegray, line width=1.2pt] table[x=t, y=d] {\Htab};
\addplot[tracegray, line width=1.2pt] table[x=t, y=e] {\Htab};
\addplot[tracegray, line width=1.2pt] table[x=t, y=f] {\Htab};
\addplot[black, densely dotted, line width=0.6pt] coordinates {(0,-10) (0,30)};
\addplot[black, line width=1.4pt] table[x=t, y=m] {\Htab};
\end{axis}

% ---------- panel letters and titles ----------
\node[font=\flet] at (33,326) {A};
\node[font=\flet] at (219,326) {B};
\node[font=\flet] at (446,326) {C};
\node[font=\flet] at (661,326) {D};
\node[font=\flet] at (33,160) {E};
\node[font=\flet] at (218,162) {F};
\node[font=\flet] at (445,161) {G};
\node[font=\flet] at (661,162) {H};
\node[font=\fttl, text=txt] at (105,295) {social attack, GCaMP};
\node[font=\fttl, text=txt] at (104,134) {social interaction, GCaMP};
\end{tikzpicture}
\end{document}
